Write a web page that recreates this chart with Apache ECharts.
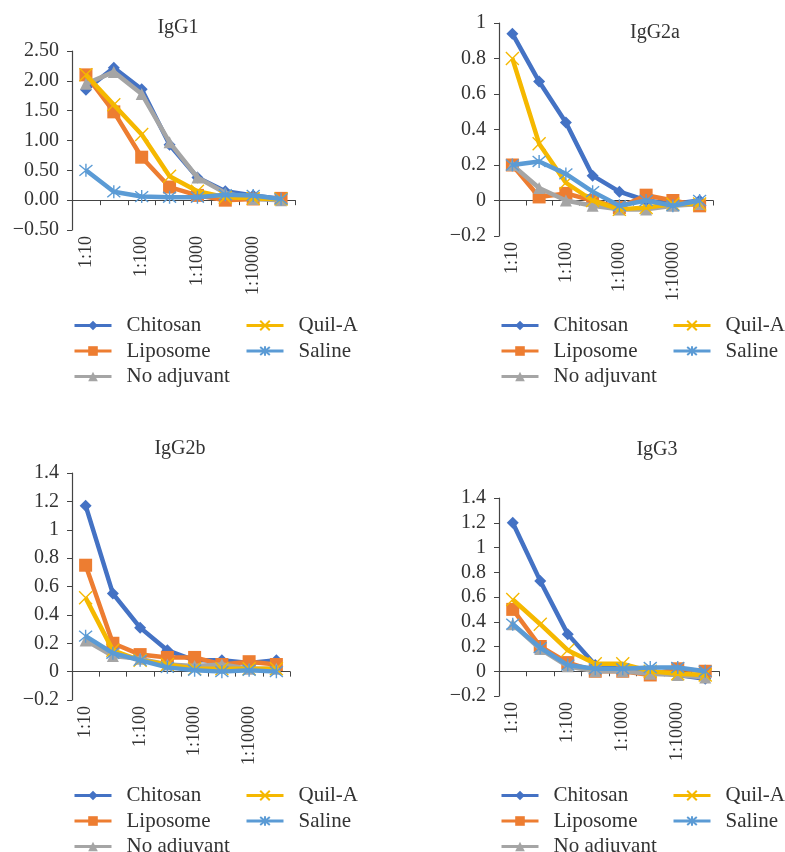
<!DOCTYPE html>
<html>
<head>
<meta charset="utf-8">
<script src="https://cdn.jsdelivr.net/npm/echarts@6/dist/echarts.min.js"></script>
<style>
  html, body { margin: 0; padding: 0; background: #fff; }
  #main { width: 785px; height: 852px; }
</style>
</head>
<body>
<div id="main"></div>
<script>
const dom = document.getElementById('main');

const dilutions = ['1:10', '1:32', '1:100', '1:316', '1:1000', '1:3162', '1:10000', '1:31623'];
const groups = ['Chitosan', 'Liposome', 'No adjuvant', 'Quil-A', 'Saline'];
const colors = ['#4472C4', '#ED7D31', '#A5A5A5', '#F5B800', '#5B9BD5'];

// values per panel, in the order of groups
const igg1 = [
  [1.85, 2.22, 1.86, 0.93, 0.38, 0.15, 0.08, 0.02],
  [2.10, 1.48, 0.72, 0.22, 0.08, 0.00, 0.02, 0.03],
  [1.95, 2.15, 1.78, 0.97, 0.38, 0.12, 0.02, 0.00],
  [2.10, 1.60, 1.10, 0.40, 0.15, 0.05, 0.03, 0.02],
  [0.50, 0.14, 0.06, 0.05, 0.05, 0.09, 0.08, 0.02]
];
const igg2a = [
  [0.94, 0.67, 0.44, 0.14, 0.05, 0.00, -0.02, 0.00],
  [0.20, 0.02, 0.04, 0.00, -0.04, 0.03, 0.00, -0.03],
  [0.20, 0.07, 0.00, -0.03, -0.05, -0.05, -0.03, -0.02],
  [0.80, 0.32, 0.10, 0.00, -0.05, -0.04, -0.02, -0.02],
  [0.20, 0.22, 0.15, 0.05, -0.03, 0.00, -0.03, 0.00]
];
const igg2b = [
  [1.17, 0.55, 0.31, 0.15, 0.08, 0.08, 0.06, 0.08],
  [0.75, 0.20, 0.12, 0.10, 0.10, 0.05, 0.07, 0.05],
  [0.22, 0.11, 0.09, 0.05, 0.04, 0.05, 0.02, 0.02],
  [0.52, 0.15, 0.08, 0.05, 0.02, 0.02, 0.02, 0.02],
  [0.25, 0.13, 0.08, 0.03, 0.01, 0.00, 0.01, 0.00]
];
const igg3 = [
  [1.20, 0.73, 0.30, 0.05, 0.02, 0.00, -0.03, -0.06],
  [0.50, 0.20, 0.07, 0.00, 0.00, -0.03, 0.02, 0.00],
  [0.38, 0.18, 0.04, 0.00, 0.00, -0.02, -0.03, -0.05],
  [0.58, 0.38, 0.17, 0.06, 0.06, 0.00, -0.02, -0.03],
  [0.38, 0.19, 0.05, 0.02, 0.02, 0.03, 0.03, 0.00]
];

const symbols = [
  'diamond',
  'rect',
  'triangle',
  'path://M0,0L10,10M10,0L0,10',
  'path://M0,0L10,10M10,0L0,10M5,-1L5,11'
];
const symbolSizes = [12, 13, 12, 13, 13];

const panels = [
  { title: 'IgG1', data: igg1, grid: { left: 72, top: 51, width: 223, height: 179 },
    min: -0.5, max: 2.5, interval: 0.5, digits: 2, titleX: 173, titleY: 13 },
  { title: 'IgG2a', data: igg2a, grid: { left: 499, top: 23, width: 214, height: 213 },
    min: -0.2, max: 1, interval: 0.2, digits: -1, titleX: 650, titleY: 18 },
  { title: 'IgG2b', data: igg2b, grid: { left: 72, top: 473, width: 218, height: 227 },
    min: -0.2, max: 1.4, interval: 0.2, digits: -1, titleX: 175, titleY: 434 },
  { title: 'IgG3', data: igg3, grid: { left: 499, top: 498, width: 220, height: 198 },
    min: -0.2, max: 1.4, interval: 0.2, digits: -1, titleX: 652, titleY: 435 }
];

const legendSpots = [
  { x1: 73, x2: 245, y: 315 },
  { x1: 500, x2: 672, y: 315 },
  { x1: 73, x2: 245, y: 785 },
  { x1: 500, x2: 672, y: 785 }
];

const font = '"Liberation Serif", "DejaVu Serif", serif';
const textColor = '#333';
const axisColor = '#444';

function fmt(v, digits) {
  const s = digits > 0 ? Math.abs(v).toFixed(digits) : String(Math.round(Math.abs(v) * 10) / 10);
  return (v < -1e-9 ? '\u2212' : '') + s;
}

function getChartOptions() {
  const option = {
    animation: false,
    title: [], grid: [], xAxis: [], yAxis: [], legend: [], series: []
  };

  panels.forEach((p, i) => {
    option.title.push({
      text: p.title, left: p.titleX, top: p.titleY, textAlign: 'center',
      textStyle: { fontFamily: font, fontSize: 20, fontWeight: 'normal', color: textColor }
    });
    option.grid.push(Object.assign({ containLabel: false }, p.grid));

    // axis line crossing at zero, ticks between categories
    option.xAxis.push({
      type: 'category', gridIndex: i, data: dilutions, boundaryGap: true,
      axisLine: { onZero: true, lineStyle: { color: axisColor, width: 1.2 } },
      axisTick: { show: true, inside: false, length: 5, interval: 0, lineStyle: { color: axisColor } },
      axisLabel: { show: false }
    });
    // labels at the bottom of the plot
    option.xAxis.push({
      type: 'category', gridIndex: i, data: dilutions, position: 'bottom', boundaryGap: true,
      axisLine: { show: false, onZero: false },
      axisTick: { show: false },
      axisLabel: { interval: 1, rotate: 90, margin: 6, fontFamily: font, fontSize: 18, color: textColor }
    });
    option.yAxis.push({
      type: 'value', gridIndex: i, min: p.min, max: p.max, interval: p.interval,
      axisLine: { show: true, lineStyle: { color: axisColor, width: 1.2 } },
      axisTick: { show: true, length: 5, lineStyle: { color: axisColor } },
      splitLine: { show: false },
      axisLabel: {
        fontFamily: font, fontSize: 20, color: textColor, margin: 13,
        formatter: (v) => fmt(v, p.digits)
      }
    });

    groups.forEach((g, k) => {
      const isStroke = k >= 3;
      option.series.push({
        name: g, type: 'line', xAxisIndex: i * 2, yAxisIndex: i,
        data: p.data[k],
        symbol: symbols[k], symbolSize: symbolSizes[k],
        lineStyle: { color: colors[k], width: 4.5 },
        itemStyle: isStroke
          ? { color: colors[k], borderColor: colors[k], borderWidth: 1.4 }
          : { color: colors[k] },
        z: 2 + k
      });
    });

    const spot = legendSpots[i];
    const legendBase = {
      orient: 'vertical', top: spot.y, height: 90, padding: 0,
      itemWidth: 37, itemHeight: 12, itemGap: 4.5,
      lineStyle: { width: 3 },
      textStyle: { fontFamily: font, fontSize: 21, lineHeight: 20, color: textColor, padding: [0, 0, 0, 10] }
    };
    option.legend.push(Object.assign({}, legendBase, { left: spot.x1, data: groups.slice(0, 3) }));
    option.legend.push(Object.assign({}, legendBase, { left: spot.x2, data: groups.slice(3) }));
  });

  return option;
}

const myChart = echarts.init(dom, null, { renderer: 'canvas' });
myChart.setOption(getChartOptions());
</script>
</body>
</html>
